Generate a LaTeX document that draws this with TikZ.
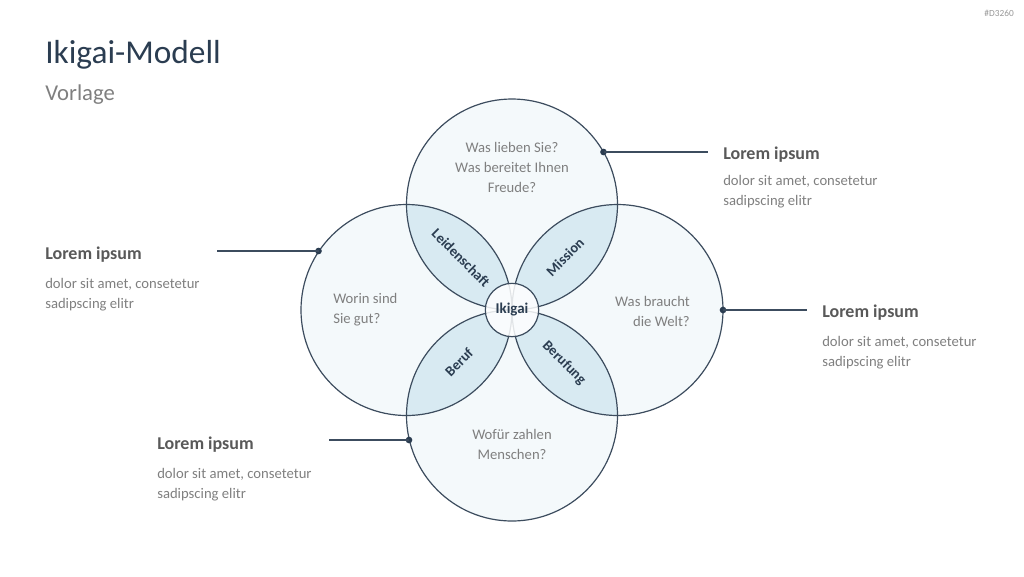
\documentclass[tikz,border=0pt]{standalone}
\usepackage{fontspec}
\setmainfont{Carlito}
\definecolor{navy}{HTML}{2B3D51}
\definecolor{ringline}{HTML}{3C4C5E}
\definecolor{ringfill}{HTML}{F4F9FB}
\definecolor{petalfill}{HTML}{D8EAF2}
\definecolor{greytext}{HTML}{7F7F7F}
\definecolor{headtext}{HTML}{595959}
\tikzset{
  ringtext/.style={inner sep=0pt, text=greytext, font=\fontsize{11}{15}\selectfont},
  headline/.style={inner sep=0pt, anchor=base west, text=headtext, font=\fontsize{13.5}{16}\bfseries\selectfont},
  bodytext/.style={inner sep=0pt, anchor=base west, align=left, text=greytext, font=\fontsize{11}{15}\selectfont},
  petaltext/.style={inner sep=0pt, text=navy, font=\fontsize{10.8}{12}\bfseries\selectfont},
  dotmark/.style={circle, fill=navy, inner sep=0pt, minimum size=5pt},
  leader/.style={draw=ringline, line width=0.9pt}
}

\begin{document}
\begin{tikzpicture}[x=0.75pt,y=0.75pt,yscale=-1,xscale=1]
\useasboundingbox (0,0) rectangle (1024,576);

%Circle centres
\coordinate (cTop) at (512,204.5);
\coordinate (cLeft) at (406.5,310);
\coordinate (cRight) at (617.5,310);
\coordinate (cBottom) at (512,415.5);

%Circle fills
\foreach \c in {cTop,cLeft,cRight,cBottom}
  \fill [ringfill] (\c) circle (105.5);

%Petals
\begin{scope}
  \clip (cTop) circle (105.5);
  \fill [petalfill] (cLeft) circle (105.5);
  \fill [petalfill] (cRight) circle (105.5);
\end{scope}
\begin{scope}
  \clip (cBottom) circle (105.5);
  \fill [petalfill] (cLeft) circle (105.5);
  \fill [petalfill] (cRight) circle (105.5);
\end{scope}

%Circle outlines
\foreach \c in {cTop,cLeft,cRight,cBottom}
  \draw [ringline, line width=0.9pt] (\c) circle (105.5);

%Centre
\node [circle, draw=ringline, line width=0.9pt, fill=white, fill opacity=0.85, text opacity=1, minimum size=40pt, inner sep=0pt, text=navy, font=\fontsize{11.2}{12}\bfseries\selectfont] (ikigai) at (512,310) {Ikigai};

% Petal labels
\node [petaltext, rotate=-45] (leidenschaft) at (461,258) {Leidenschaft};
\node [petaltext, rotate=45] (mission) at (565,257) {Mission};
\node [petaltext, rotate=45] (beruf) at (459,362) {Beruf};
\node [petaltext, rotate=-45] (berufung) at (564,363) {Berufung};

% Circle texts (base = last line)
\node [ringtext, anchor=base, align=center] (txtTop) at (512,192.3) {Was lieben Sie?\\Was bereitet Ihnen\\Freude?};
\node [ringtext, anchor=base west, align=left] (txtLeft) at (333,323) {Worin sind\\Sie gut?};
\node [ringtext, anchor=base east, align=right] (txtRight) at (690,326) {Was braucht\\die Welt?};
\node [ringtext, anchor=base, align=center] (txtBottom) at (512,459) {Wofür zahlen\\Menschen?};

% Leader dots and lines
\node [dotmark] (dotTR) at (603.5,152) {};
\coordinate (endTR) at (708,152);
\draw [leader] (dotTR.center) -- (endTR);
\node [dotmark] (dotL) at (318.5,251) {};
\coordinate (endL) at (217,251);
\draw [leader] (dotL.center) -- (endL);
\node [dotmark] (dotR) at (723,310) {};
\coordinate (endR) at (807,310);
\draw [leader] (dotR.center) -- (endR);
\node [dotmark] (dotBL) at (409,440) {};
\coordinate (endBL) at (329,440);
\draw [leader] (dotBL.center) -- (endBL);

% Side texts
\node [headline] (headTR) at (723,159.3) {Lorem ipsum};
\node [bodytext] (bodyTR) at (723,205) {dolor sit amet, consetetur\\sadipscing elitr};
\node [headline] (headL) at (45,259) {Lorem ipsum};
\node [bodytext] (bodyL) at (45,308) {dolor sit amet, consetetur\\sadipscing elitr};
\node [headline] (headR) at (822,317) {Lorem ipsum};
\node [bodytext] (bodyR) at (822,366) {dolor sit amet, consetetur\\sadipscing elitr};
\node [headline] (headBL) at (157,449) {Lorem ipsum};
\node [bodytext] (bodyBL) at (157,498) {dolor sit amet, consetetur\\sadipscing elitr};

% Title
\node [inner sep=0pt, anchor=base west, text=navy, font=\fontsize{25}{30}\selectfont] (title) at (45,63.3) {Ikigai-Modell};
\node [inner sep=0pt, anchor=base west, text=greytext, font=\fontsize{17}{20}\selectfont] (subtitle) at (45,100) {Vorlage};
\node [inner sep=0pt, anchor=base east, text=greytext!80, font=\fontsize{7}{8}\selectfont] (code) at (1014,16) {\#D3260};

\end{tikzpicture}
\end{document}
